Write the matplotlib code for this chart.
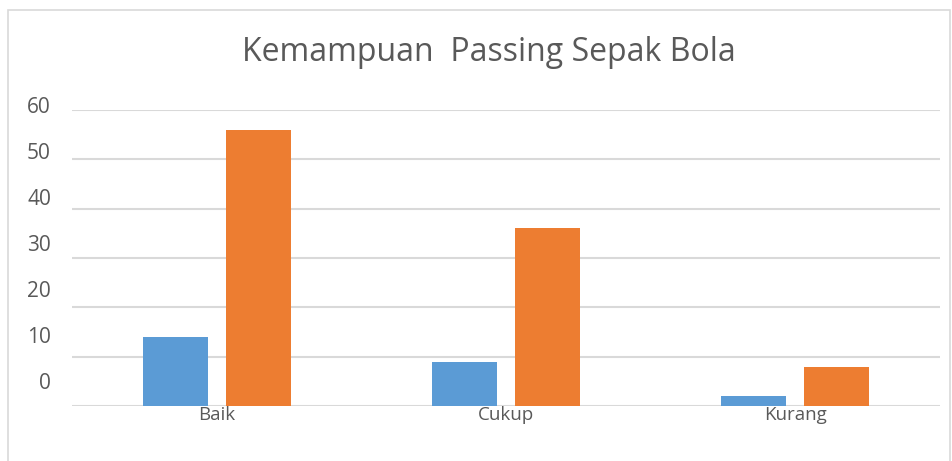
import matplotlib.pyplot as plt
import numpy as np
from matplotlib.patches import Rectangle
from matplotlib.transforms import blended_transform_factory

categories = ['Baik', 'Cukup', 'Kurang']
series_blue = [14, 9, 2]
series_orange = [56, 36, 8]
ytick_values = [0, 10, 20, 30, 40, 50, 60]
ytick_labels = ['0', '10', '20', '30', '40', '50', '60']
title = 'Kemampuan  Passing Sepak Bola'

plt.rcParams['font.family'] = ['Open Sans', 'DejaVu Sans']
txt = '#595959'

fig = plt.figure(figsize=(9.53, 4.61), dpi=100)
ax = fig.add_axes([0.0756, 0.1193, 0.9108, 0.6421])

x = np.arange(len(categories))
w = 0.225
off = 0.1436
ax.bar(x - off, series_blue, width=w, color='#5B9BD5', zorder=3)
ax.bar(x + off, series_orange, width=w, color='#ED7D31', zorder=3)

ax.set_xlim(-0.5, len(categories) - 0.5)
ax.set_ylim(0, 60)
ax.set_yticks(ytick_values)
ax.yaxis.grid(True, color='#D9D9D9', linewidth=1.5, zorder=0)
ax.tick_params(axis='y', length=0, labelleft=False)
ax.set_xticks(x)
ax.set_xticklabels(categories, fontsize=13.5, color=txt)
ax.tick_params(axis='x', length=0, pad=0)
for s in ax.spines.values():
    s.set_visible(False)

# y labels in the reference sit on a slightly tighter spacing than the gridlines
trans = blended_transform_factory(fig.transFigure, ax.transData)
for i, lab in enumerate(ytick_labels):
    pos = 4.66 + i * 9.32
    ax.text(0.0535, pos, lab, transform=trans, ha='right', va='center',
            fontsize=15, color=txt)

fig.text(0.513, 0.887, title, ha='center', va='center', fontsize=23, color=txt)

# chart border
fig.patches.append(Rectangle((8 / 953, -0.1), 942 / 953, 1.1 - 10 / 461,
                             transform=fig.transFigure, fill=False,
                             edgecolor='#D9D9D9', linewidth=1.2))

fig.savefig('out.png', dpi=100)
